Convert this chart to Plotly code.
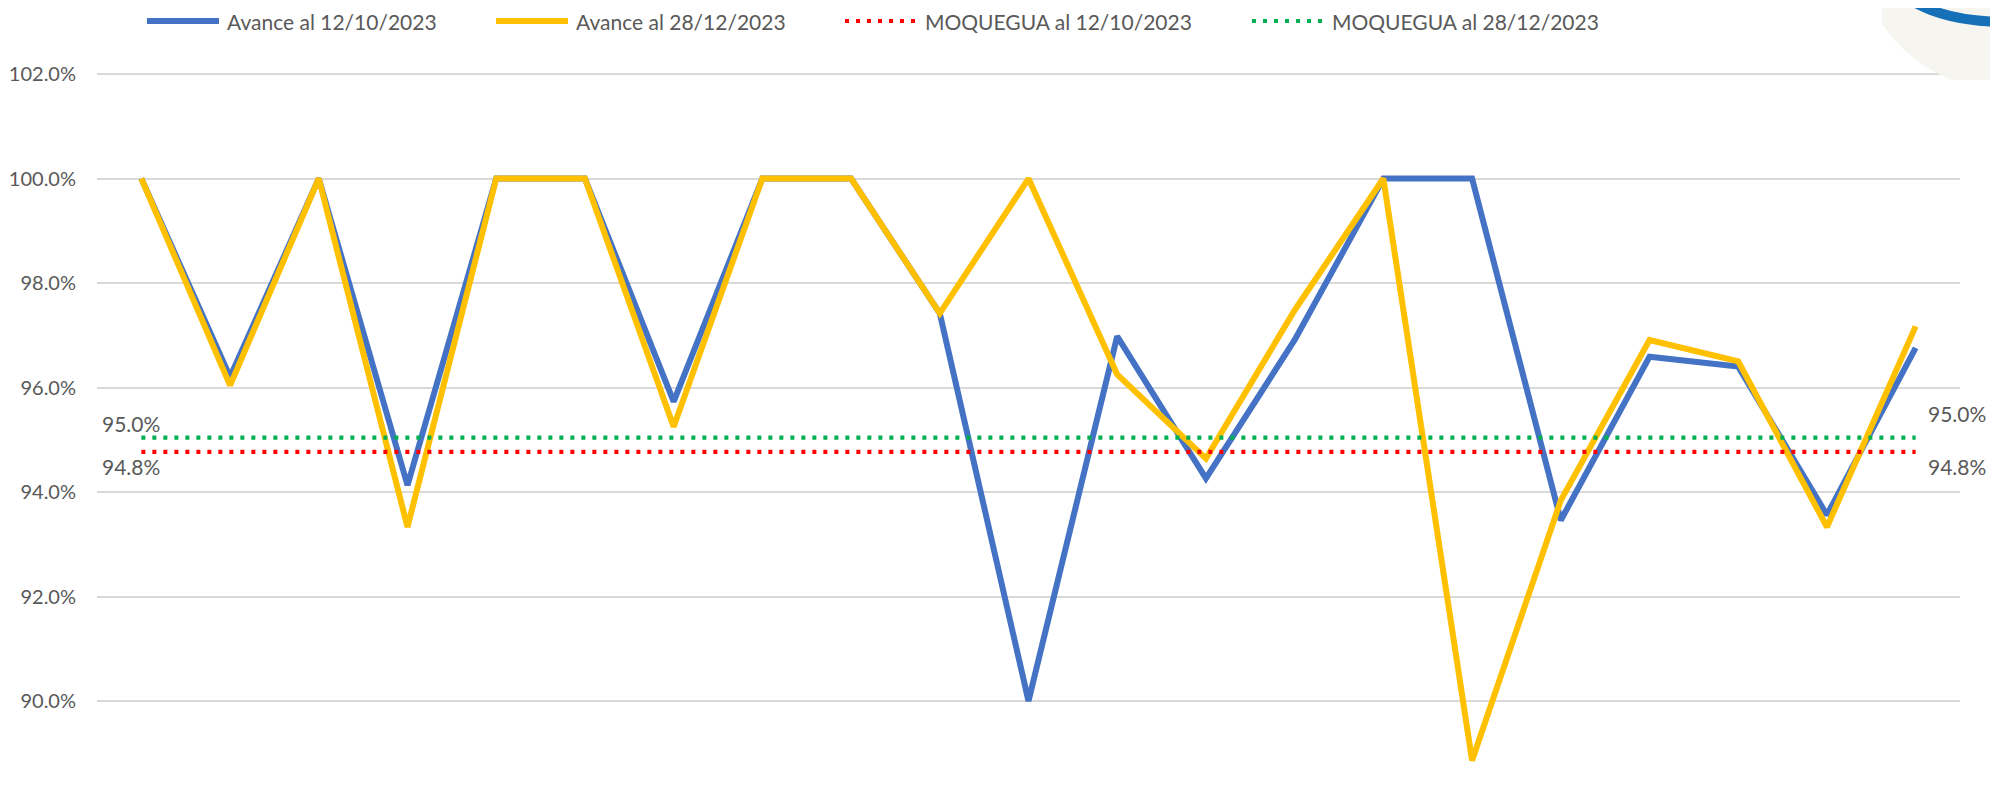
import plotly.graph_objects as go

# 21 districts (category names are cropped out of the reference)
categories = list(range(1, 22))

avance_1210 = [100.0, 96.20, 100.0, 94.13, 100.0, 100.0, 95.73, 100.0, 100.0, 97.42, 90.00,
               96.98, 94.26, 96.91, 100.0, 100.0, 93.46, 96.59, 96.40, 93.56, 96.76]
avance_2812 = [100.0, 96.04, 100.0, 93.33, 100.0, 100.0, 95.25, 100.0, 100.0, 97.42, 100.0,
               96.25, 94.64, 97.48, 100.0, 88.86, 93.84, 96.91, 96.50, 93.33, 97.17]
moquegua_1210 = [94.77] * 21
moquegua_2812 = [95.04] * 21

# the page body has an 8px margin, so the figure is a bit smaller than the window
OFF = 8
W, H = 1998 - OFF, 794 - OFF
L, R, T, B = 97 - OFF, 38, 73 - OFF, 0
FONT = "Lato"
GREY = "#595959"


def px(x):
    # screen pixel -> paper x
    return (x - OFF - L) / (W - L - R)


def py(y):
    # screen pixel -> paper y
    return (H - B - (y - OFF)) / (H - T - B)


series = [
    ("Avance al 12/10/2023", avance_1210, dict(color="#4472C4", width=6)),
    ("Avance al 28/12/2023", avance_2812, dict(color="#FFC000", width=6)),
    ("MOQUEGUA al 12/10/2023", moquegua_1210, dict(color="#FF0000", width=4.2, dash="4px,7px")),
    ("MOQUEGUA al 28/12/2023", moquegua_2812, dict(color="#00B050", width=4.2, dash="4px,7px")),
]

fig = go.Figure()
for name, vals, style in series:
    fig.add_trace(go.Scatter(x=categories, y=vals, mode="lines", name=name, line=style,
                             showlegend=False))

# legend drawn by hand, Excel style (long line samples)
legend_x = [147, 496, 845, 1252]
for (name, vals, style), x0 in zip(series, legend_x):
    fig.add_shape(type="line", xref="paper", yref="paper", x0=px(x0), x1=px(x0 + 72),
                  y0=py(21), y1=py(21), line=style)
    fig.add_annotation(xref="paper", yref="paper", x=px(x0 + 78), y=py(21), text=name,
                       showarrow=False, xanchor="left", yanchor="middle",
                       font=dict(size=21, color=GREY, family=FONT))

# data labels at both ends of the regional lines
for v, ys in [(moquegua_2812, 14), (moquegua_1210, -15)]:
    fig.add_annotation(x=categories[0], y=v[0], text=f"{v[0]:.1f}%", showarrow=False,
                       xshift=-10, yshift=ys, font=dict(size=21, color=GREY, family=FONT))
for v, ys in [(moquegua_2812, 24), (moquegua_1210, -15)]:
    fig.add_annotation(x=categories[-1], y=v[-1], text=f"{v[-1]:.1f}%", showarrow=False,
                       xshift=41, yshift=ys, font=dict(size=21, color=GREY, family=FONT))

# logo corner in the top right
fig.add_shape(type="path", xref="paper", yref="paper", layer="above", line=dict(width=0),
              fillcolor="#F6F5F0",
              path=f"M {px(1882)},{py(0)} L {px(1882)},{py(24)} Q {px(1908)},{py(62)} {px(1952)},{py(80)} "
                   f"L {px(1998)},{py(80)} L {px(1998)},{py(0)} Z")
fig.add_shape(type="path", xref="paper", yref="paper", layer="above",
              line=dict(color="#1570B8", width=10),
              path=f"M {px(1914)},{py(2)} Q {px(1945)},{py(20)} {px(1998)},{py(22)}")

fig.update_layout(
    width=W, height=H,
    margin=dict(l=L, r=R, t=T, b=B, autoexpand=False),
    plot_bgcolor="white", paper_bgcolor="white",
    font=dict(family=FONT, size=21, color=GREY),
    hovermode=False,
    showlegend=False,
    xaxis=dict(range=[0.5, 21.5], showticklabels=False, showgrid=False, zeroline=False,
               showline=False, ticks=""),
    yaxis=dict(range=[88.22, 102.02], tick0=0, dtick=2, tickformat=".1f", ticksuffix="%",
               tickfont=dict(size=20, color=GREY, family=FONT),
               showgrid=True, gridcolor="#D9D9D9", gridwidth=1.5, zeroline=False,
               showline=False, ticks="", ticklabelstandoff=20),
)

fig.write_html("out.html")
